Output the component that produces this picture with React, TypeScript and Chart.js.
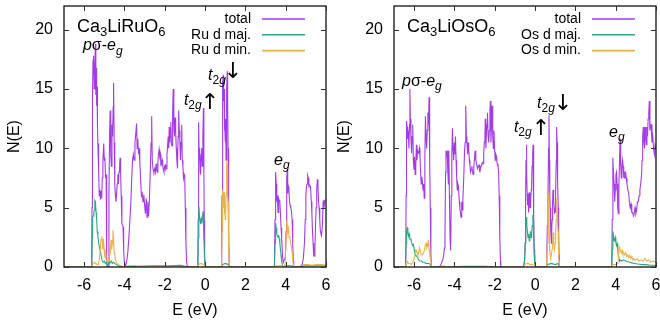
import React, { useEffect, useRef } from 'react';
import { Chart, registerables } from 'chart.js';
Chart.register(...registerables);

const FONT = '"Liberation Sans", Arial, Helvetica, sans-serif';
const ARROW_FONT = '"DejaVu Sans", sans-serif';

const xTicks = [-6, -4, -2, 0, 2, 4, 6];
const yTicks = [0, 5, 10, 15, 20];
const xRange = [-7, 6];
const yRange = [0, 22];

const ruLegend = ['total', 'Ru d maj.', 'Ru d min.'];
const osLegend = ['total', 'Os d maj.', 'Os d min.'];
const seriesColors = ['#a23ce4', '#2ba886', '#ebb24a'];

// ---------------- Ca3LiRuO6 ----------------
const ruTotal = [
  [-7, 0], [-5.63, 0], [-5.61, 5], [-5.6, 13.5], [-5.58, 13.8], [-5.56, 17.5], [-5.54, 16.2], [-5.52, 17.8], [-5.5, 15.0],
  [-5.47, 17.0], [-5.44, 18.8], [-5.42, 14.5], [-5.4, 16.8], [-5.38, 13.6], [-5.36, 15.2], [-5.34, 12.0], [-5.31, 9.6],
  [-5.29, 10.4], [-5.27, 8.0], [-5.25, 6.0], [-5.22, 6.5], [-5.19, 5.7], [-5.16, 6.4], [-5.13, 5.8], [-5.1, 7.5], [-5.07, 9.0],
  [-5.03, 10.4], [-5.0, 9.0], [-4.97, 9.2], [-4.94, 7.5], [-4.91, 7.8], [-4.89, 4.0], [-4.87, 0.5], [-4.85, 0], [-4.8, 0],
  [-4.77, 6], [-4.74, 11.0], [-4.71, 13.2], [-4.68, 9.5], [-4.65, 8.5], [-4.62, 12.0], [-4.59, 11.0], [-4.56, 13.5],
  [-4.54, 15.5], [-4.51, 10.5], [-4.48, 7.0], [-4.45, 6.0], [-4.42, 5.5], [-4.39, 6.2], [-4.36, 7.0], [-4.33, 7.8],
  [-4.3, 7.0], [-4.27, 8.0], [-4.24, 8.5], [-4.22, 9.2], [-4.19, 8.0], [-4.16, 6.0], [-4.13, 3.7], [-4.1, 3.5], [-4.07, 3.4],
  [-4.04, 1.5], [-4.01, 0.5], [-3.97, 0], [-3.93, 0.2], [-3.88, 0.6], [-3.83, 1.3], [-3.78, 2.5], [-3.73, 4.0], [-3.68, 5.5],
  [-3.64, 7.5], [-3.6, 9.0], [-3.56, 9.5], [-3.52, 9.0], [-3.48, 10.5], [-3.44, 11.2], [-3.4, 12.1], [-3.37, 10.0],
  [-3.34, 10.8], [-3.3, 9.5], [-3.27, 10.0], [-3.24, 8.8], [-3.2, 7.5], [-3.16, 6.0], [-3.12, 6.2], [-3.08, 5.5], [-3.04, 6.1],
  [-3.0, 5.2], [-2.96, 4.5], [-2.92, 5.8], [-2.88, 4.2], [-2.84, 5.5], [-2.8, 4.3], [-2.76, 5.8], [-2.72, 8.0], [-2.68, 10.5],
  [-2.65, 12.7], [-2.62, 9.0], [-2.58, 8.2], [-2.54, 8.0], [-2.5, 8.3], [-2.46, 8.0], [-2.43, 8.7], [-2.4, 8.2], [-2.37, 8.0],
  [-2.34, 9.0], [-2.31, 9.5], [-2.28, 9.9], [-2.25, 9.3], [-2.22, 9.5], [-2.19, 8.5], [-2.16, 8.8], [-2.13, 9.0], [-2.1, 8.5],
  [-2.07, 8.2], [-2.04, 8.0], [-2.01, 8.5], [-1.98, 8.6], [-1.95, 8.2], [-1.92, 8.3], [-1.89, 9.5], [-1.86, 10.2], [-1.83, 11.0],
  [-1.8, 10.0], [-1.78, 11.8], [-1.75, 10.5], [-1.72, 11.5], [-1.7, 12.2], [-1.67, 10.4], [-1.64, 10.2], [-1.61, 13.0],
  [-1.58, 15.0], [-1.55, 12.0], [-1.52, 11.0], [-1.49, 12.6], [-1.46, 11.5], [-1.43, 10.0], [-1.4, 9.0], [-1.37, 8.3],
  [-1.34, 11.0], [-1.31, 13.2], [-1.28, 11.5], [-1.25, 10.5], [-1.22, 9.0], [-1.19, 10.5], [-1.16, 12.0], [-1.13, 9.0],
  [-1.1, 8.5], [-1.07, 7.5], [-1.04, 7.8], [-1.01, 7.6], [-0.98, 5.0], [-0.95, 2.0], [-0.92, 0.5], [-0.88, 0],
  [-0.36, 0], [-0.34, 4], [-0.32, 12.2], [-0.3, 10.0], [-0.28, 9.0], [-0.26, 9.8], [-0.24, 8.0], [-0.22, 7.8], [-0.2, 9.5],
  [-0.17, 10.0], [-0.14, 8.5], [-0.11, 11.0], [-0.08, 13.4], [-0.06, 8.0], [-0.04, 4.0], [-0.02, 1.0], [0.0, 0],
  [0.82, 0], [0.84, 6], [0.86, 13.0], [0.88, 15.5], [0.9, 16.2], [0.92, 14.0], [0.94, 15.0], [0.96, 11.5], [0.98, 12.5],
  [1.0, 10.6], [1.02, 12.5], [1.04, 9.0], [1.06, 12.0], [1.08, 15.0], [1.1, 16.5], [1.12, 14.0], [1.14, 10.0], [1.16, 8.0],
  [1.18, 3.0], [1.2, 0],
  [3.44, 0], [3.47, 4], [3.5, 8.0], [3.53, 7.0], [3.56, 5.5], [3.59, 6.0], [3.62, 4.6], [3.65, 5.8], [3.68, 5.6], [3.71, 5.5],
  [3.74, 4.5], [3.77, 3.3], [3.8, 2.5], [3.84, 1.0], [3.88, 0.4], [3.93, 0.6], [3.98, 0.8], [4.02, 3], [4.05, 7.5], [4.08, 8.2],
  [4.1, 6.2], [4.13, 6.8], [4.16, 6.5], [4.19, 5.5], [4.22, 5.2], [4.25, 5.0], [4.28, 4.8], [4.32, 4.0], [4.35, 2.0], [4.38, 0.5],
  [4.4, 0],
  [4.75, 0], [4.82, 0.2], [4.88, 0.8], [4.93, 2.0], [4.97, 4.0], [5.0, 6.0], [5.03, 6.8], [5.06, 7.0], [5.09, 7.7], [5.12, 7.5],
  [5.15, 6.8], [5.18, 6.9], [5.21, 6.8], [5.24, 6.5], [5.27, 5.5], [5.3, 4.5], [5.33, 3.0], [5.36, 2.0], [5.39, 1.0], [5.42, 0.9],
  [5.45, 1.5], [5.48, 3.5], [5.51, 5.0], [5.54, 6.5], [5.57, 7.4], [5.6, 7.0], [5.63, 5.5], [5.66, 5.0], [5.69, 4.0], [5.72, 3.0],
  [5.75, 2.8], [5.78, 2.7], [5.82, 3.5], [5.86, 5.6], [5.9, 5.0], [5.94, 5.6], [6.0, 5.7],
];

const ruMaj = [
  [-7, 0], [-5.62, 0], [-5.6, 2.5], [-5.58, 4.2], [-5.55, 4.3], [-5.52, 4.6], [-5.49, 4.8], [-5.47, 5.6], [-5.44, 5.5],
  [-5.41, 4.6], [-5.38, 4.0], [-5.35, 3.0], [-5.32, 2.6], [-5.29, 2.2], [-5.25, 1.7], [-5.22, 1.5], [-5.18, 1.2], [-5.14, 0.8],
  [-5.1, 0.5], [-5.05, 0.4], [-5.0, 0.5], [-4.95, 0.3], [-4.9, 0.4], [-4.86, 0.1], [-4.82, 0.2], [-4.78, 0.4], [-4.72, 0.3],
  [-4.66, 0.5], [-4.6, 0.3], [-4.54, 0.4], [-4.48, 0.3], [-4.4, 0.2], [-4.3, 0.1], [-4.2, 0.05], [-4.0, 0],
  [-3.5, 0.05], [-2.5, 0.1], [-1.8, 0.1], [-1.2, 0.15], [-0.95, 0.05], [-0.88, 0],
  [-0.36, 0], [-0.34, 2.5], [-0.31, 5.1], [-0.28, 4.4], [-0.25, 4.0], [-0.22, 3.6], [-0.19, 4.0], [-0.16, 3.7], [-0.13, 4.3],
  [-0.1, 4.7], [-0.08, 4.5], [-0.06, 3.0], [-0.03, 0.8], [0.0, 0],
  [0.82, 0], [0.85, 0.2], [1.0, 0.3], [1.18, 0.2], [1.2, 0],
  [3.44, 0], [3.47, 2.0], [3.5, 3.7], [3.53, 3.3], [3.56, 2.8], [3.59, 2.6], [3.62, 2.5], [3.65, 2.7], [3.68, 2.4], [3.71, 2.0],
  [3.74, 1.5], [3.77, 1.0], [3.8, 0.5], [3.84, 0.2], [3.88, 0], [4.0, 0.1], [4.3, 0.1], [4.4, 0], [5.0, 0.1], [6.0, 0.1],
];

const ruMin = [
  [-7, 0], [-5.62, 0], [-5.6, 0.2], [-5.56, 0.3], [-5.5, 0.4], [-5.45, 0.3], [-5.4, 0.3], [-5.35, 0.2], [-5.3, 0.2],
  [-5.25, 0.6], [-5.2, 1.5], [-5.16, 2.3], [-5.13, 2.6], [-5.1, 2.2], [-5.07, 1.5], [-5.04, 2.4], [-5.01, 1.5], [-4.98, 0.8],
  [-4.95, 1.2], [-4.92, 0.6], [-4.88, 0.5], [-4.84, 0.4], [-4.8, 0.6], [-4.75, 0.9], [-4.7, 1.2], [-4.66, 2.3], [-4.63, 1.5],
  [-4.6, 2.0], [-4.57, 3.1], [-4.54, 2.2], [-4.51, 1.2], [-4.48, 1.0], [-4.44, 0.6], [-4.38, 0.3], [-4.3, 0.2], [-4.2, 0.1],
  [-4.0, 0], [-3.8, 0.1], [-3.5, 0.1], [-3.2, 0], [-0.36, 0], [-0.34, 0.2], [-0.2, 0.3], [-0.05, 0.2], [0.0, 0],
  [0.82, 0], [0.84, 3], [0.86, 5.5], [0.88, 6.5], [0.9, 6.0], [0.92, 5.0], [0.94, 6.3], [0.96, 4.5], [0.98, 5.2], [1.0, 4.0],
  [1.02, 4.5], [1.04, 6.0], [1.06, 7.5], [1.08, 8.7], [1.1, 8.5], [1.12, 6.0], [1.14, 5.5], [1.16, 4.0], [1.18, 1.5], [1.2, 0],
  [3.44, 0], [3.5, 0.1], [3.8, 0.1], [3.95, 0], [3.98, 0.5], [4.02, 2.5], [4.05, 3.9], [4.08, 3.5], [4.11, 3.0], [4.14, 3.2],
  [4.17, 2.5], [4.2, 2.6], [4.24, 2.0], [4.28, 1.8], [4.32, 1.2], [4.36, 0.5], [4.4, 0],
  [4.85, 0], [4.9, 0.2], [5.1, 0.2], [5.3, 0.15], [5.5, 0.2], [5.8, 0.2], [6.0, 0.15],
];

// ---------------- Ca3LiOsO6 ----------------
const osTotal = [
  [-7, 0], [-6.42, 0], [-6.4, 6], [-6.38, 12.3], [-6.35, 11.8], [-6.32, 10.8], [-6.29, 11.5], [-6.26, 10.0], [-6.23, 12.0],
  [-6.21, 15.0], [-6.19, 12.5], [-6.16, 11.0], [-6.13, 9.6], [-6.1, 11.0], [-6.07, 12.0], [-6.04, 9.0], [-6.01, 8.2],
  [-5.98, 9.3], [-5.95, 7.8], [-5.92, 8.5], [-5.89, 10.3], [-5.86, 9.0], [-5.83, 9.8], [-5.8, 9.6], [-5.77, 9.7], [-5.74, 10.0],
  [-5.71, 9.3], [-5.68, 8.0], [-5.65, 7.0], [-5.62, 7.6], [-5.59, 7.2], [-5.56, 6.5], [-5.53, 7.0], [-5.5, 5.8], [-5.47, 9.0],
  [-5.44, 12.7], [-5.41, 11.0], [-5.38, 10.0], [-5.35, 11.5], [-5.32, 13.0], [-5.29, 12.0], [-5.26, 14.3], [-5.23, 9.0],
  [-5.2, 5.0], [-5.17, 1.0], [-5.14, 0],
  [-4.74, 0], [-4.68, 0.2], [-4.6, 0.5], [-4.54, 0.9], [-4.5, 1.6], [-4.47, 3.0], [-4.44, 8.0], [-4.42, 9.8], [-4.39, 9.5],
  [-4.36, 9.8], [-4.33, 8.0], [-4.3, 7.0], [-4.28, 9.8], [-4.25, 6.0], [-4.22, 2.5], [-4.19, 1.4], [-4.16, 6.0], [-4.13, 9.5],
  [-4.1, 11.7], [-4.07, 10.0], [-4.04, 9.0], [-4.01, 10.5], [-3.98, 9.5], [-3.95, 11.0], [-3.92, 9.0], [-3.89, 7.5],
  [-3.86, 6.5], [-3.83, 7.0], [-3.8, 6.8], [-3.76, 5.5], [-3.73, 5.0], [-3.7, 4.5], [-3.67, 4.2], [-3.64, 5.5], [-3.61, 4.8],
  [-3.58, 5.8], [-3.54, 7.5], [-3.5, 9.8], [-3.47, 10.5], [-3.44, 13.6], [-3.41, 11.0], [-3.38, 10.5], [-3.35, 9.5],
  [-3.32, 10.5], [-3.29, 10.0], [-3.26, 9.0], [-3.23, 8.5], [-3.2, 8.0], [-3.17, 8.2], [-3.14, 8.5], [-3.1, 8.0], [-3.07, 7.8],
  [-3.04, 8.5], [-3.01, 9.0], [-2.98, 9.8], [-2.94, 9.0], [-2.9, 8.7], [-2.86, 8.3], [-2.82, 8.5], [-2.78, 8.6], [-2.74, 8.0],
  [-2.7, 8.4], [-2.66, 8.5], [-2.62, 8.8], [-2.58, 8.7], [-2.55, 9.5], [-2.52, 10.5], [-2.49, 11.0], [-2.47, 12.5],
  [-2.44, 10.0], [-2.41, 11.5], [-2.38, 12.0], [-2.36, 13.0], [-2.33, 11.0], [-2.3, 10.5], [-2.27, 11.5], [-2.24, 13.2],
  [-2.22, 14.0], [-2.19, 10.5], [-2.16, 12.0], [-2.13, 13.6], [-2.1, 11.0], [-2.07, 10.0], [-2.04, 11.5], [-2.01, 10.0],
  [-1.98, 9.0], [-1.95, 9.5], [-1.91, 9.3], [-1.88, 8.7], [-1.84, 8.5], [-1.81, 8.0], [-1.78, 6.0], [-1.75, 2.5], [-1.72, 0.5],
  [-1.7, 0],
  [-0.62, 0], [-0.56, 0.2], [-0.52, 0.6], [-0.49, 2.0], [-0.47, 6.0], [-0.45, 9.0], [-0.43, 10.3], [-0.41, 8.0], [-0.39, 6.0],
  [-0.37, 5.2], [-0.35, 6.2], [-0.33, 5.8], [-0.31, 4.6], [-0.29, 6.3], [-0.27, 5.5], [-0.25, 5.0], [-0.23, 6.2], [-0.21, 5.5],
  [-0.19, 6.5], [-0.17, 7.0], [-0.15, 8.5], [-0.12, 9.5], [-0.1, 10.3], [-0.08, 8.0], [-0.06, 4.0], [-0.04, 1.5], [-0.02, 0.3],
  [0.0, 0],
  [0.55, 0], [0.58, 1.0], [0.61, 3.5], [0.64, 6.0], [0.67, 10.0], [0.69, 12.8], [0.71, 9.0], [0.73, 6.0], [0.75, 5.0],
  [0.77, 4.0], [0.79, 3.0], [0.81, 2.0], [0.83, 3.5], [0.85, 4.0], [0.87, 5.5], [0.89, 6.5], [0.91, 5.8], [0.93, 5.5],
  [0.95, 5.0], [0.97, 4.5], [0.99, 5.0], [1.01, 4.6], [1.03, 6.5], [1.05, 9.0], [1.07, 11.8], [1.09, 10.5], [1.11, 8.2],
  [1.13, 7.0], [1.15, 5.0], [1.17, 3.0], [1.19, 1.0], [1.21, 0],
  [3.8, 0], [3.83, 4], [3.86, 9.2], [3.89, 8.0], [3.92, 7.0], [3.95, 5.5], [3.98, 6.5], [4.01, 7.8], [4.04, 8.0], [4.07, 7.0],
  [4.1, 5.0], [4.13, 4.5], [4.16, 7.0], [4.19, 9.0], [4.22, 10.8], [4.25, 8.5], [4.28, 7.5], [4.31, 8.5], [4.34, 9.0],
  [4.37, 8.5], [4.4, 7.6], [4.43, 7.5], [4.46, 8.0], [4.49, 8.0], [4.52, 7.5], [4.56, 7.0], [4.6, 6.5], [4.64, 6.3],
  [4.68, 5.5], [4.72, 5.0], [4.76, 5.3], [4.8, 4.6], [4.84, 4.6], [4.88, 4.3], [4.92, 4.5], [4.96, 5.0], [5.0, 4.5],
  [5.04, 4.8], [5.08, 5.5], [5.12, 5.5], [5.16, 6.0], [5.2, 6.5], [5.24, 7.0], [5.28, 7.7], [5.31, 9.0], [5.34, 11.0],
  [5.37, 11.8], [5.4, 10.5], [5.43, 10.0], [5.46, 11.8], [5.49, 11.0], [5.52, 10.3], [5.55, 11.8], [5.58, 11.0], [5.61, 12.5],
  [5.64, 13.0], [5.67, 14.0], [5.7, 11.5], [5.73, 12.0], [5.76, 12.0], [5.8, 10.5], [5.84, 11.0], [5.88, 10.0], [5.92, 9.5],
  [5.96, 10.3], [6.0, 10.0],
];

const osMaj = [
  [-7, 0], [-6.42, 0], [-6.4, 2.0], [-6.37, 3.2], [-6.34, 3.3], [-6.31, 2.8], [-6.28, 2.6], [-6.25, 2.8], [-6.22, 2.4],
  [-6.19, 2.3], [-6.16, 2.4], [-6.12, 2.0], [-6.08, 1.8], [-6.04, 1.9], [-6.0, 1.5], [-5.96, 1.2], [-5.92, 1.0], [-5.88, 0.9],
  [-5.83, 0.8], [-5.78, 0.6], [-5.72, 0.5], [-5.65, 0.5], [-5.58, 0.4], [-5.5, 0.4], [-5.42, 0.3], [-5.34, 0.3], [-5.26, 0.3],
  [-5.2, 0.2], [-5.15, 0], [-4.5, 0], [-3.5, 0.05], [-2.5, 0.05], [-1.7, 0],
  [-0.56, 0], [-0.52, 0.5], [-0.49, 2.0], [-0.46, 3.5], [-0.43, 4.2], [-0.41, 3.5], [-0.38, 3.0], [-0.35, 2.5], [-0.32, 2.8],
  [-0.29, 2.2], [-0.26, 2.4], [-0.23, 3.0], [-0.2, 2.5], [-0.17, 2.8], [-0.14, 3.5], [-0.11, 4.4], [-0.09, 4.0], [-0.07, 2.5],
  [-0.04, 1.0], [-0.01, 0],
  [0.55, 0], [0.6, 0.2], [0.8, 0.3], [1.0, 0.2], [1.15, 0.3], [1.2, 0],
  [3.8, 0], [3.83, 1.5], [3.86, 3.0], [3.89, 2.7], [3.92, 2.2], [3.95, 2.3], [3.98, 2.5], [4.01, 2.0], [4.04, 1.8], [4.07, 2.0],
  [4.1, 1.5], [4.13, 0.9], [4.16, 0.7], [4.2, 0.5], [4.25, 0.6], [4.3, 0.5], [4.4, 0.6], [4.5, 0.5], [4.6, 0.45], [4.7, 0.4],
  [4.8, 0.35], [4.95, 0.3], [5.1, 0.25], [5.3, 0.2], [5.5, 0.2], [5.7, 0.15], [6.0, 0.15],
];

const osMin = [
  [-7, 0], [-6.42, 0], [-6.4, 0.3], [-6.36, 0.5], [-6.32, 0.4], [-6.26, 0.3], [-6.2, 0.3], [-6.14, 0.2], [-6.08, 0.4],
  [-6.02, 0.6], [-5.97, 0.9], [-5.93, 1.2], [-5.89, 1.4], [-5.85, 1.2], [-5.81, 1.0], [-5.77, 1.3], [-5.73, 1.6], [-5.69, 1.3],
  [-5.65, 1.1], [-5.61, 1.0], [-5.57, 1.0], [-5.53, 1.2], [-5.49, 1.4], [-5.45, 1.8], [-5.41, 2.0], [-5.37, 1.6], [-5.33, 1.8],
  [-5.29, 2.3], [-5.26, 1.5], [-5.22, 1.0], [-5.18, 0.5], [-5.14, 0], [-4.7, 0], [-4.6, 0.1], [-4.45, 0.05], [-4.3, 0],
  [-0.56, 0], [-0.52, 0.2], [-0.4, 0.3], [-0.2, 0.2], [-0.05, 0.25], [-0.01, 0],
  [0.55, 0], [0.58, 0.5], [0.61, 2.0], [0.64, 4.5], [0.66, 6.2], [0.68, 5.5], [0.7, 3.0], [0.72, 1.5], [0.75, 1.0], [0.78, 0.8],
  [0.81, 1.0], [0.84, 1.5], [0.87, 2.0], [0.9, 2.9], [0.93, 2.0], [0.96, 1.5], [0.99, 2.0], [1.02, 3.0], [1.05, 4.0],
  [1.08, 5.8], [1.1, 4.6], [1.12, 3.5], [1.14, 3.0], [1.16, 1.5], [1.19, 0.5], [1.21, 0],
  [3.8, 0], [3.83, 0.2], [3.9, 0.2], [4.0, 0.2], [4.1, 0.3], [4.14, 0.8], [4.17, 1.7], [4.2, 1.5], [4.24, 1.4], [4.28, 1.2],
  [4.32, 1.4], [4.36, 1.1], [4.4, 1.2], [4.45, 1.0], [4.5, 1.2], [4.55, 0.9], [4.6, 1.0], [4.65, 0.8], [4.7, 1.0], [4.75, 0.7],
  [4.8, 0.9], [4.85, 0.6], [4.9, 0.7], [4.95, 0.6], [5.0, 0.6], [5.08, 0.7], [5.15, 0.5], [5.25, 0.6], [5.35, 0.5], [5.45, 0.7],
  [5.55, 0.5], [5.65, 0.6], [5.75, 0.4], [5.85, 0.5], [6.0, 0.4],
];

// ---------------- text annotations (data coordinates) ----------------
type Run = { t: string; it?: boolean; sub?: boolean; fam?: string };
type Note = { x: number; y: number; size: number; runs?: Run[]; arrow?: string };

const chem = (m: string): Run[] => [{ t: 'Ca' }, { t: '3', sub: true }, { t: 'Li' + m + 'O' }, { t: '6', sub: true }];
const psEg: Run[] = [{ t: 'p', it: true }, { t: 'σ' }, { t: '-' }, { t: 'e', it: true }, { t: 'g', it: true, sub: true }];
const t2g: Run[] = [{ t: 't', it: true }, { t: '2', sub: true }, { t: 'g', it: true, sub: true }];
const eg: Run[] = [{ t: 'e', it: true }, { t: 'g', it: true, sub: true }];

const ruNotes: Note[] = [
  { x: -6.36, y: 19.85, size: 18, runs: chem('Ru') },
  { x: -6.06, y: 18.25, size: 16, runs: psEg },
  { x: -1.05, y: 13.65, size: 16, runs: t2g },
  { x: 0.24, y: 14.03, size: 22, arrow: '↑' },
  { x: 0.15, y: 15.76, size: 16, runs: t2g },
  { x: 1.39, y: 16.6, size: 22, arrow: '↓' },
  { x: 3.42, y: 8.6, size: 16, runs: eg },
];
const osNotes: Note[] = [
  { x: -6.36, y: 19.85, size: 18, runs: chem('Os') },
  { x: -6.6, y: 15.26, size: 16, runs: psEg },
  { x: -1.05, y: 11.38, size: 16, runs: t2g },
  { x: 0.29, y: 11.84, size: 22, arrow: '↑' },
  { x: 0.1, y: 13.4, size: 16, runs: t2g },
  { x: 1.39, y: 13.95, size: 22, arrow: '↓' },
  { x: 3.67, y: 10.96, size: 16, runs: eg },
];

function drawRuns(ctx: CanvasRenderingContext2D, runs: Run[], x: number, y: number, size: number) {
  let cx = x;
  for (const r of runs) {
    const fs = r.sub ? Math.round(size * 0.72) : size;
    ctx.font = `${r.it ? 'italic ' : ''}${fs}px ${r.fam || FONT}`;
    ctx.fillText(r.t, cx, y + (r.sub ? size * 0.27 : 0));
    cx += ctx.measureText(r.t).width;
  }
}

function makeDeco(legend: string[], notes: Note[]) {
  return {
    id: 'deco',
    afterDraw(chart: any) {
      const { ctx, chartArea: a, scales } = chart;
      const sx = scales.x;
      const sy = scales.y;
      ctx.save();
      // frame
      ctx.strokeStyle = '#111';
      ctx.lineWidth = 1.3;
      ctx.strokeRect(a.left, a.top, a.right - a.left, a.bottom - a.top);
      // inward mirrored ticks
      ctx.lineWidth = 1;
      ctx.strokeStyle = '#333';
      ctx.beginPath();
      for (const v of xTicks) {
        const px = Math.round(sx.getPixelForValue(v)) + 0.5;
        ctx.moveTo(px, a.bottom);
        ctx.lineTo(px, a.bottom - 5);
        ctx.moveTo(px, a.top);
        ctx.lineTo(px, a.top + 5);
      }
      for (const v of yTicks) {
        const py = Math.round(sy.getPixelForValue(v)) + 0.5;
        ctx.moveTo(a.left, py);
        ctx.lineTo(a.left + 5, py);
        ctx.moveTo(a.right, py);
        ctx.lineTo(a.right - 5, py);
      }
      ctx.stroke();
      // legend
      ctx.fillStyle = '#000';
      ctx.textBaseline = 'middle';
      ctx.textAlign = 'right';
      ctx.font = `14px ${FONT}`;
      legend.forEach((lab, i) => {
        const yy = a.top + 13 + i * 15.8;
        ctx.fillText(lab, a.right - 75, yy);
        ctx.strokeStyle = seriesColors[i];
        ctx.lineWidth = 1.6;
        ctx.beginPath();
        ctx.moveTo(a.right - 64, yy);
        ctx.lineTo(a.right - 21, yy);
        ctx.stroke();
      });
      // annotations
      ctx.textAlign = 'left';
      ctx.textBaseline = 'alphabetic';
      ctx.fillStyle = '#000';
      for (const n of notes) {
        const px = sx.getPixelForValue(n.x);
        const py = sy.getPixelForValue(n.y);
        if (n.arrow) {
          ctx.font = `${n.size}px ${ARROW_FONT}`;
          ctx.textAlign = 'center';
          const m = ctx.measureText(n.arrow);
          const off = (m.actualBoundingBoxAscent - m.actualBoundingBoxDescent) / 2;
          ctx.fillText(n.arrow, px, py + off);
          ctx.textAlign = 'left';
        } else if (n.runs) {
          drawRuns(ctx, n.runs, px, py, n.size);
        }
      }
      ctx.restore();
    },
  };
}

function Panel({ series, legend, notes }: { series: number[][][]; legend: string[]; notes: Note[] }) {
  const ref = useRef<HTMLCanvasElement | null>(null);
  useEffect(() => {
    if (!ref.current) return;
    const font = { family: FONT, size: 16 };
    const chart = new Chart(ref.current, {
      type: 'line',
      data: {
        datasets: series.map((pts, i) => ({
          label: legend[i],
          data: pts.map(([x, y]) => ({ x, y })),
          borderColor: seriesColors[i],
          backgroundColor: seriesColors[i],
          borderWidth: 1.1,
          pointRadius: 0,
          tension: 0,
          fill: false,
          order: 2 - i,
        })),
      },
      options: {
        responsive: false,
        animation: false,
        devicePixelRatio: 1,
        layout: { padding: { left: 0, right: 4, top: 6, bottom: 0 } },
        plugins: { legend: { display: false }, tooltip: { enabled: false } },
        scales: {
          x: {
            type: 'linear',
            min: xRange[0],
            max: xRange[1],
            afterBuildTicks: (s: any) => { s.ticks = xTicks.map((v) => ({ value: v })); },
            afterFit: (s: any) => { s.height = 55; s.paddingLeft = 0; s.paddingRight = 0; },
            grid: { display: false, drawTicks: false },
            border: { display: false },
            ticks: { padding: 9, color: '#000', font, maxRotation: 0, autoSkip: false },
            title: { display: true, text: 'E (eV)', color: '#000', font, padding: { top: 0, bottom: 2 } },
          },
          y: {
            type: 'linear',
            min: yRange[0],
            max: yRange[1],
            afterBuildTicks: (s: any) => { s.ticks = yTicks.map((v) => ({ value: v })); },
            afterFit: (s: any) => { s.width = 64; s.paddingTop = 0; s.paddingBottom = 0; },
            grid: { display: false, drawTicks: false },
            border: { display: false },
            ticks: { padding: 11, color: '#000', font },
            title: { display: true, text: 'N(E)', color: '#000', font, padding: { top: 5, bottom: 0 } },
          },
        },
      } as any,
      plugins: [makeDeco(legend, notes)],
    });
    return () => chart.destroy();
  }, []);
  return <canvas ref={ref} width={330} height={322} style={{ display: 'block', width: 330, height: 322 }} />;
}

export default function App() {
  return (
    <div style={{ position: 'absolute', left: 0, top: 0, width: 660, height: 322, display: 'flex', background: '#fff', overflow: 'hidden' }}>
      <Panel series={[ruTotal, ruMaj, ruMin]} legend={ruLegend} notes={ruNotes} />
      <Panel series={[osTotal, osMaj, osMin]} legend={osLegend} notes={osNotes} />
    </div>
  );
}
